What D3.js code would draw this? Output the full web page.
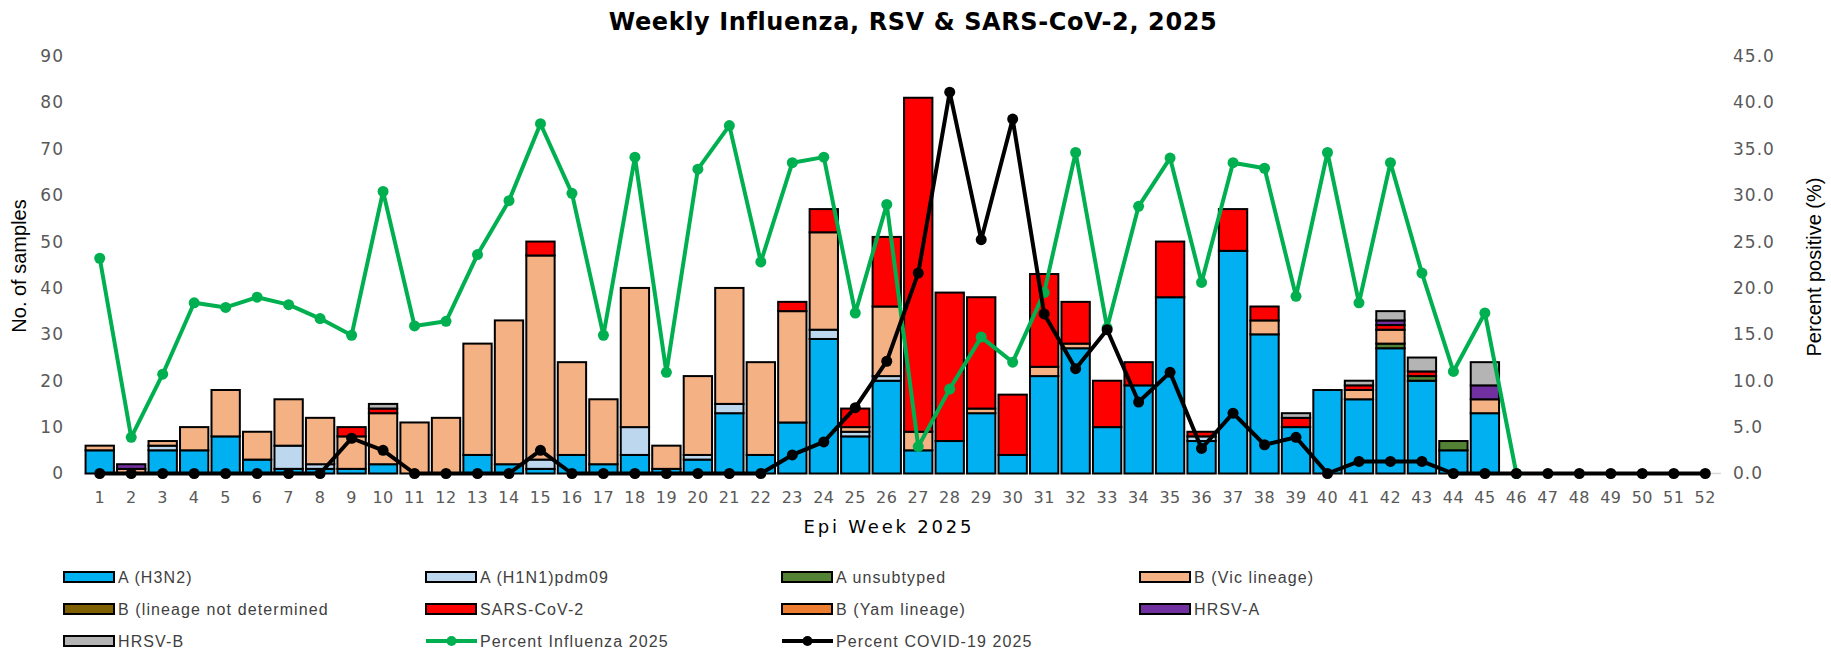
<!DOCTYPE html>
<html>
<head>
<meta charset="utf-8">
<script src="https://cdn.jsdelivr.net/npm/d3@7"></script>
<style>
  html, body { margin: 0; padding: 0; background: #ffffff; }
  svg { display: block; }
</style>
</head>
<body>
<svg id="chart" width="1831" height="655"></svg>
<script>
// ---------------- DATA ----------------
const weeks = d3.range(1, 53);
const leftTicks = [0, 10, 20, 30, 40, 50, 60, 70, 80, 90];
const rightTicks = [0, 5, 10, 15, 20, 25, 30, 35, 40, 45];

const seriesNames = [
  "A (H3N2)", "A (H1N1)pdm09", "A unsubtyped", "B (Vic lineage)",
  "B (lineage not determined", "SARS-CoV-2", "B (Yam lineage)", "HRSV-A", "HRSV-B"
];
const seriesColors = ["#00B0F0", "#BDD7EE", "#548235", "#F4B183", "#7F6000", "#FF0000", "#ED7D31", "#7030A0", "#B4B4B4"];

//                 1  2  3  4  5  6  7  8  9 10 11 12 13 14 15 16 17 18 19 20 21 22 23 24 25 26 27 28 29 30 31 32 33 34 35 36 37 38 39 40 41 42 43 44 45 46 47 48 49 50 51 52
const h3n2     = [ 5, 0, 5, 5, 8, 3, 1, 1, 1, 2, 0, 0, 4, 2, 1, 4, 2, 4, 1, 3,13, 4,11,29, 8,20, 5, 7,13, 4,21,27,10,19,38, 7,48,30,10,18,16,27,20, 5,13, 0, 0, 0, 0, 0, 0, 0];
const h1n1     = [ 0, 0, 1, 0, 0, 0, 5, 1, 0, 0, 0, 0, 0, 0, 2, 0, 0, 6, 0, 1, 2, 0, 0, 2, 1, 1, 0, 0, 0, 0, 0, 0, 0, 0, 0, 1, 0, 0, 0, 0, 0, 0, 0, 0, 0, 0, 0, 0, 0, 0, 0, 0];
const aUnsub   = [ 0, 0, 0, 0, 0, 0, 0, 0, 0, 0, 0, 0, 0, 0, 0, 0, 0, 0, 0, 0, 0, 0, 0, 0, 0, 0, 0, 0, 0, 0, 0, 0, 0, 0, 0, 0, 0, 0, 0, 0, 0, 1, 1, 2, 0, 0, 0, 0, 0, 0, 0, 0];
const bVic     = [ 1, 1, 1, 5,10, 6,10,10, 7,11,11,12,24,31,44,20,14,30, 5,17,25,20,24,21, 1,15, 4, 0, 1, 0, 2, 1, 0, 0, 0, 0, 0, 3, 0, 0, 2, 3, 0, 0, 3, 0, 0, 0, 0, 0, 0, 0];
const bNd      = [ 0, 0, 0, 0, 0, 0, 0, 0, 0, 0, 0, 0, 0, 0, 0, 0, 0, 0, 0, 0, 0, 0, 0, 0, 0, 0, 0, 0, 0, 0, 0, 0, 0, 0, 0, 0, 0, 0, 0, 0, 0, 0, 0, 0, 0, 0, 0, 0, 0, 0, 0, 0];
const sarsCov2 = [ 0, 0, 0, 0, 0, 0, 0, 0, 2, 1, 0, 0, 0, 0, 3, 0, 0, 0, 0, 0, 0, 0, 2, 5, 4,15,72,32,24,13,20, 9,10, 5,12, 1, 9, 3, 2, 0, 1, 1, 1, 0, 0, 0, 0, 0, 0, 0, 0, 0];
const bYam     = [ 0, 0, 0, 0, 0, 0, 0, 0, 0, 0, 0, 0, 0, 0, 0, 0, 0, 0, 0, 0, 0, 0, 0, 0, 0, 0, 0, 0, 0, 0, 0, 0, 0, 0, 0, 0, 0, 0, 0, 0, 0, 0, 0, 0, 0, 0, 0, 0, 0, 0, 0, 0];
const hrsvA    = [ 0, 1, 0, 0, 0, 0, 0, 0, 0, 0, 0, 0, 0, 0, 0, 0, 0, 0, 0, 0, 0, 0, 0, 0, 0, 0, 0, 0, 0, 0, 0, 0, 0, 0, 0, 0, 0, 0, 0, 0, 0, 1, 0, 0, 3, 0, 0, 0, 0, 0, 0, 0];
const hrsvB    = [ 0, 0, 0, 0, 0, 0, 0, 0, 0, 1, 0, 0, 0, 0, 0, 0, 0, 0, 0, 0, 0, 0, 0, 0, 0, 0, 0, 0, 0, 0, 0, 0, 0, 0, 0, 0, 0, 0, 1, 0, 1, 2, 3, 0, 5, 0, 0, 0, 0, 0, 0, 0];

const pctFlu = [23.2, 3.9, 10.7, 18.4, 17.9, 19.0, 18.2, 16.7, 14.9, 30.4, 15.9, 16.4, 23.6, 29.4, 37.7, 30.2, 14.9, 34.1, 10.9, 32.8,
                37.5, 22.8, 33.5, 34.1, 17.3, 29.0, 2.9, 9.1, 14.7, 12.0, 19.5, 34.6, 15.7, 28.8, 34.0, 20.6, 33.5, 32.9, 19.1, 34.6,
                18.4, 33.5, 21.6, 11.0, 17.3, 0, null, null, null, null, null, null];
const pctCovid = [0, 0, 0, 0, 0, 0, 0, 0, 3.8, 2.5, 0, 0, 0, 0, 2.5, 0, 0, 0, 0, 0,
                  0, 0, 2.0, 3.4, 7.1, 12.1, 21.6, 41.1, 25.2, 38.2, 17.2, 11.3, 15.5, 7.7, 10.9, 2.7, 6.5, 3.1, 3.9, 0,
                  1.3, 1.3, 1.3, 0, 0, 0, 0, 0, 0, 0, 0, 0];

const seriesValues = [h3n2, h1n1, aUnsub, bVic, bNd, sarsCov2, bYam, hrsvA, hrsvB];

// ---------------- CHART ----------------
const svg = d3.select("#chart");
svg.append("rect").attr("width", 1831).attr("height", 655).attr("fill", "#fff");

const x = d3.scaleBand().domain(weeks).range([84, 1721]).paddingInner(0.1).paddingOuter(0.05);
const yL = d3.scaleLinear().domain([0, 90]).range([473.5, 56]);
const yR = d3.scaleLinear().domain([0, 45]).range([473.5, 56]);

// baseline
svg.append("line")
  .attr("x1", 84).attr("x2", 1721)
  .attr("y1", yL(0)).attr("y2", yL(0))
  .attr("stroke", "#D9D9D9").attr("stroke-width", 1.5);

// stacked data
const table = weeks.map((w, i) => {
  const row = { week: w };
  seriesNames.forEach((s, k) => { row[s] = seriesValues[k][i]; });
  return row;
});
const stack = d3.stack().keys(seriesNames)(table);

const gBars = svg.append("g");
stack.forEach((layer, k) => {
  gBars.selectAll(null)
    .data(layer.filter(d => d[1] - d[0] > 0))
    .join("rect")
    .attr("x", d => x(d.data.week))
    .attr("width", x.bandwidth())
    .attr("y", d => yL(d[1]))
    .attr("height", d => yL(d[0]) - yL(d[1]))
    .attr("fill", seriesColors[k])
    .attr("stroke", "#000")
    .attr("stroke-width", 2);
});

// lines
const cx = w => x(w) + x.bandwidth() / 2;
function drawLine(vals, color) {
  const pts = weeks.map((w, i) => ({ w, v: vals[i] })).filter(d => d.v !== null);
  const line = d3.line().x(d => cx(d.w)).y(d => yR(d.v));
  svg.append("path").datum(pts)
    .attr("d", line).attr("fill", "none")
    .attr("stroke", color).attr("stroke-width", 4)
    .attr("stroke-linejoin", "round");
  svg.append("g").selectAll("circle").data(pts).join("circle")
    .attr("cx", d => cx(d.w)).attr("cy", d => yR(d.v)).attr("r", 5.5)
    .attr("fill", color);
}
drawLine(pctFlu, "#00B050");
drawLine(pctCovid, "#000000");

// axes (labels only)
const tickFont = "DejaVu Sans, Verdana, sans-serif";
const axL = d3.axisLeft(yL).tickValues(leftTicks).tickSize(0).tickPadding(0);
const gL = svg.append("g").attr("transform", "translate(64,0)").call(axL);
gL.select(".domain").remove();
gL.selectAll("text").attr("font-family", tickFont).attr("font-size", 17).attr("letter-spacing", 1).attr("fill", "#595959");

const axR = d3.axisRight(yR).tickValues(rightTicks).tickSize(0).tickPadding(0).tickFormat(d3.format(".1f"));
const gR = svg.append("g").attr("transform", "translate(1733,0)").call(axR);
gR.select(".domain").remove();
gR.selectAll("text").attr("font-family", tickFont).attr("font-size", 17).attr("letter-spacing", 1).attr("fill", "#595959");

const axB = d3.axisBottom(x).tickSize(0).tickPadding(18);
const gB = svg.append("g").attr("transform", `translate(0,${yL(0)})`).call(axB);
gB.select(".domain").remove();
gB.selectAll("text").attr("font-family", tickFont).attr("font-size", 16).attr("letter-spacing", 0.5).attr("fill", "#595959");

// titles
svg.append("text").attr("x", 913).attr("y", 30).attr("text-anchor", "middle")
  .attr("font-family", "DejaVu Sans, Verdana, sans-serif").attr("font-weight", "bold").attr("font-size", 24)
  .attr("letter-spacing", 0.6)
  .attr("fill", "#000").text("Weekly Influenza, RSV & SARS-CoV-2, 2025");

svg.append("text").attr("transform", "translate(26,266) rotate(-90)").attr("text-anchor", "middle")
  .attr("font-family", "Liberation Sans Narrow, Arial Narrow, sans-serif").attr("font-size", 20)
  .attr("fill", "#000").text("No. of samples");

svg.append("text").attr("transform", "translate(1821,267) rotate(-90)").attr("text-anchor", "middle")
  .attr("font-family", "Liberation Sans Narrow, Arial Narrow, sans-serif").attr("font-size", 20)
  .attr("fill", "#000").text("Percent positive (%)");

svg.append("text").attr("x", 889).attr("y", 533).attr("text-anchor", "middle")
  .attr("font-family", "DejaVu Sans, Verdana, sans-serif").attr("font-size", 18).attr("letter-spacing", 2.8)
  .attr("fill", "#000").text("Epi Week 2025");

// legend
const legendItems = seriesNames.map((s, k) => ({ name: s, type: "bar", color: seriesColors[k] }))
  .concat([{ name: "Percent Influenza 2025", type: "line", color: "#00B050" },
           { name: "Percent COVID-19 2025", type: "line", color: "#000000" }]);
const colX = [64, 426, 782, 1140];
const rowY = [577, 609, 641];
const gLeg = svg.append("g");
legendItems.forEach((it, i) => {
  const cxL = colX[i % 4], cyL = rowY[Math.floor(i / 4)];
  const g = gLeg.append("g");
  if (it.type === "bar") {
    g.append("rect").attr("x", cxL).attr("y", cyL - 5).attr("width", 50).attr("height", 10)
      .attr("fill", it.color).attr("stroke", "#000").attr("stroke-width", 2);
  } else {
    g.append("line").attr("x1", cxL).attr("x2", cxL + 51).attr("y1", cyL).attr("y2", cyL)
      .attr("stroke", it.color).attr("stroke-width", 4);
    g.append("circle").attr("cx", cxL + 25.5).attr("cy", cyL).attr("r", 5).attr("fill", it.color);
  }
  g.append("text").attr("x", cxL + 54).attr("y", cyL + 5.5)
    .attr("font-family", "Liberation Sans Narrow, Arial Narrow, sans-serif").attr("font-size", 16)
    .attr("letter-spacing", 1.1).attr("fill", "#404040").text(it.name);
});
</script>
</body>
</html>
